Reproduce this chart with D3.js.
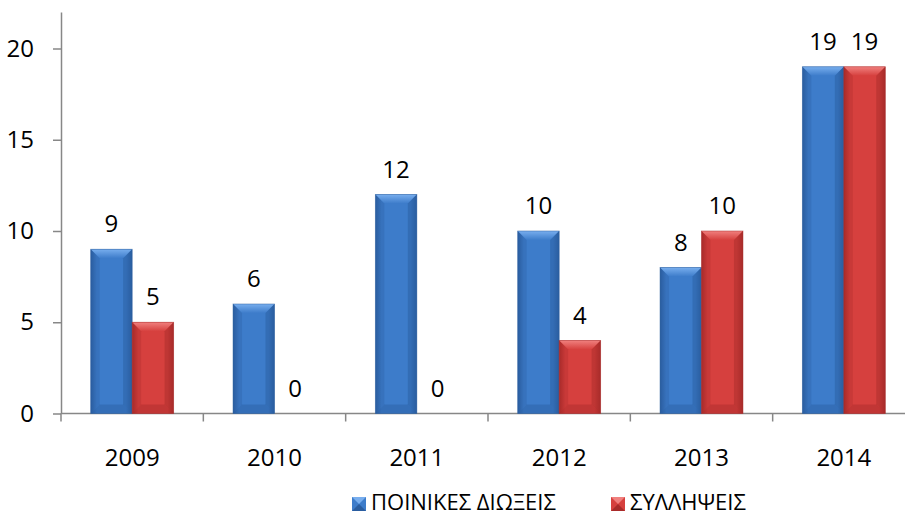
<!DOCTYPE html>
<html>
<head>
<meta charset="utf-8">
<script src="https://cdn.jsdelivr.net/npm/d3@7/dist/d3.min.js"></script>
<style>
html,body{margin:0;padding:0;background:#fff;}
svg{display:block;}
text{font-family:"Open Sans",sans-serif;fill:#000;}
</style>
</head>
<body>
<svg id="chart" width="905" height="515"></svg>
<script>
const years = ["2009","2010","2011","2012","2013","2014"];
const seriesNames = ["ΠΟΙΝΙΚΕΣ ΔΙΩΞΕΙΣ","ΣΥΛΛΗΨΕΙΣ"];
const prosecutions = [9,6,12,10,8,19];
const arrests = [5,0,0,4,10,19];
const yTicks = [0,5,10,15,20];

const palette = [
  {main:"#3d7cca", light:"#6fa6e6", dark:"#2a5d9f", top:"#78aeee"},
  {main:"#d6403e", light:"#ee7472", dark:"#a82b2a", top:"#f0807e"}
];

const svg = d3.select("#chart");
const defs = svg.append("defs");
palette.forEach((p,i)=>{
  const g = defs.append("linearGradient").attr("id","g"+i).attr("x1","0").attr("x2","1").attr("y1","0").attr("y2","0");
  g.append("stop").attr("offset","0").attr("stop-color",p.dark);
  g.append("stop").attr("offset","0.15").attr("stop-color",p.main);
  g.append("stop").attr("offset","0.5").attr("stop-color",p.main);
  g.append("stop").attr("offset","0.85").attr("stop-color",p.main);
  g.append("stop").attr("offset","1").attr("stop-color",p.dark);
  const t = defs.append("linearGradient").attr("id","t"+i).attr("x1","0").attr("x2","0").attr("y1","0").attr("y2","1");
  t.append("stop").attr("offset","0").attr("stop-color",p.top);
  t.append("stop").attr("offset","1").attr("stop-color",p.main);
});

const x0 = d3.scaleBand().domain(years).range([61, 915]).padding(0);
const x1 = d3.scaleBand().domain(seriesNames).range([0, x0.bandwidth()]).paddingInner(0).paddingOuter(0.716);
const y = d3.scaleLinear().domain([0,22]).range([413.5, 12]);

const axisColor = "#878787";
const fs = 24;

// y axis
const yAxis = d3.axisLeft(y).tickValues(yTicks).tickSize(8).tickSizeOuter(0).tickPadding(19);
const gy = svg.append("g").attr("transform","translate(61,0)").call(yAxis);
gy.select(".domain").attr("stroke",axisColor).attr("stroke-width",1.5);
gy.selectAll(".tick line").attr("stroke",axisColor).attr("stroke-width",1.5);
gy.selectAll(".tick text").attr("font-size",fs).attr("font-family","Open Sans").attr("fill","#000");

// x axis
svg.append("line").attr("x1",61).attr("x2",905).attr("y1",y(0)).attr("y2",y(0))
  .attr("stroke",axisColor).attr("stroke-width",1.5);
svg.selectAll(".xtick").data(years).enter().append("line")
  .attr("x1",d=>x0(d)).attr("x2",d=>x0(d)).attr("y1",y(0)).attr("y2",y(0)+8)
  .attr("stroke",axisColor).attr("stroke-width",1.5);
svg.selectAll(".xlab").data(years).enter().append("text")
  .attr("x",d=>x0(d)+x0.bandwidth()/2).attr("y",466)
  .attr("text-anchor","middle").attr("font-size",fs).text(d=>d);

// bars
const data = years.map((yr,i)=>({year:yr, values:[prosecutions[i], arrests[i]]}));
const groups = svg.selectAll(".grp").data(data).enter().append("g")
  .attr("transform",d=>`translate(${x0(d.year)},0)`);

groups.each(function(d){
  const g = d3.select(this);
  d.values.forEach((v,si)=>{
    const bx = x1(seriesNames[si]);
    const bw = x1.bandwidth();
    const yt = y(v), yb = y(0);
    const h = yb - yt;
    const p = palette[si];
    if(h > 0){
      const b = Math.min(9, h/2);
      g.append("rect").attr("x",bx).attr("y",yt).attr("width",bw).attr("height",h)
        .attr("fill",`url(#g${si})`);
      // top bevel
      g.append("polygon").attr("points",
        `${bx},${yt} ${bx+bw},${yt} ${bx+bw-b},${yt+b} ${bx+b},${yt+b}`)
        .attr("fill",`url(#t${si})`);
      // left bevel
      g.append("polygon").attr("points",
        `${bx},${yt} ${bx+b},${yt+b} ${bx+b},${yb-b} ${bx},${yb}`)
        .attr("fill",p.dark).attr("opacity",0.3);
      // right bevel
      g.append("polygon").attr("points",
        `${bx+bw},${yt} ${bx+bw-b},${yt+b} ${bx+bw-b},${yb-b} ${bx+bw},${yb}`)
        .attr("fill",p.dark).attr("opacity",0.5);
      // bottom bevel
      g.append("polygon").attr("points",
        `${bx},${yb} ${bx+b},${yb-b} ${bx+bw-b},${yb-b} ${bx+bw},${yb}`)
        .attr("fill",p.dark).attr("opacity",0.45);
      g.append("rect").attr("x",bx).attr("y",yt).attr("width",bw).attr("height",h)
        .attr("fill","none").attr("stroke",p.dark).attr("stroke-width",0.8).attr("stroke-opacity",0.6);
    }
    g.append("text").attr("x",bx+bw/2).attr("y",yt-17)
      .attr("text-anchor","middle").attr("font-size",fs).text(v);
  });
});

// legend
const legendX = [352, 611];
seriesNames.forEach((name,si)=>{
  const p = palette[si];
  const lx = legendX[si], ly = 497;
  const s = 14;
  svg.append("rect").attr("x",lx).attr("y",ly).attr("width",s).attr("height",s).attr("fill",p.main);
  svg.append("polygon").attr("points",`${lx},${ly} ${lx+s},${ly} ${lx+s/2},${ly+s/2}`).attr("fill",p.top);
  svg.append("polygon").attr("points",`${lx},${ly+s} ${lx+s},${ly+s} ${lx+s/2},${ly+s/2}`).attr("fill",p.dark);
  svg.append("text").attr("x",lx+s+5).attr("y",510).attr("font-size",22).text(name);
});
</script>
</body>
</html>
